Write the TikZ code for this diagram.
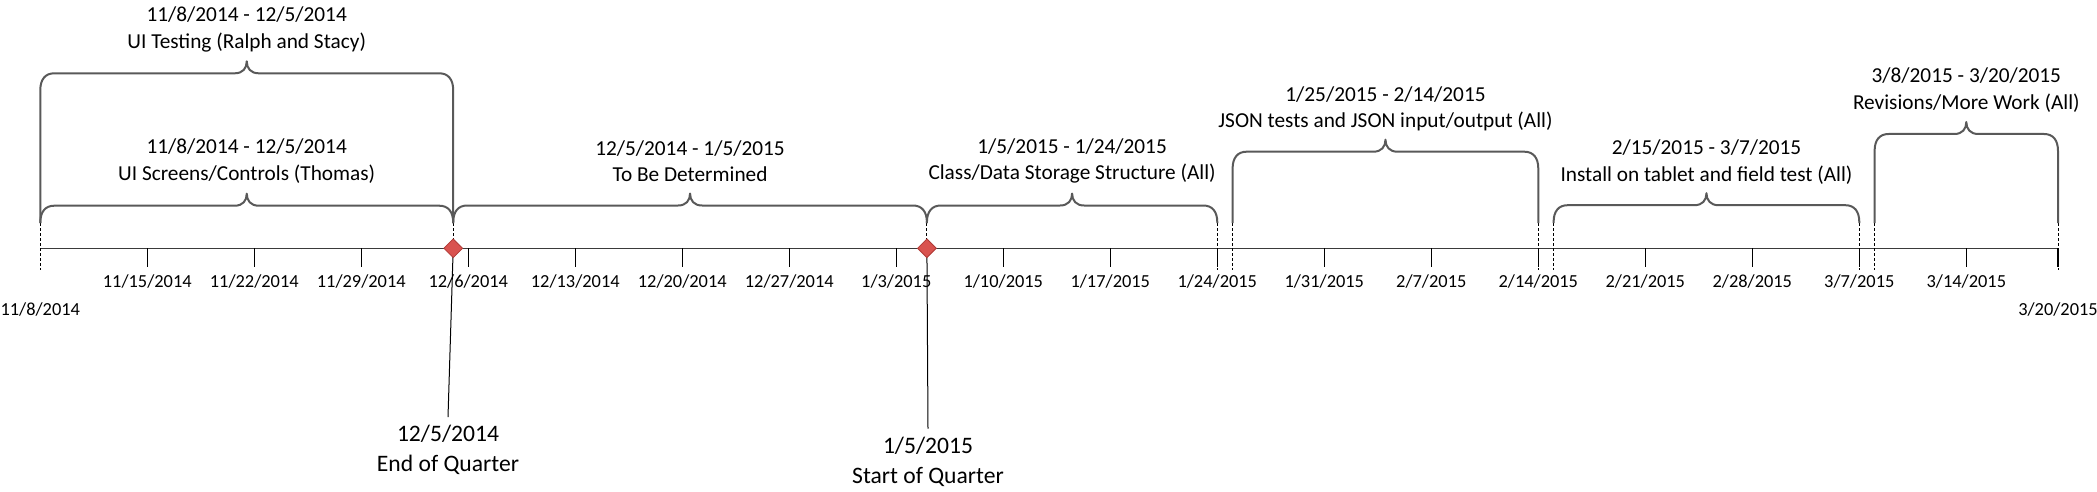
\documentclass[tikz,border=0pt]{standalone}
\usepackage{fontspec}
\setmainfont{Carlito}
\usetikzlibrary{shapes.geometric}
\definecolor{bracegray}{HTML}{595959}
\definecolor{axisgray}{HTML}{3A3A3A}
\definecolor{msred}{HTML}{D9534F}
\definecolor{msredline}{HTML}{B03A36}
\newcommand\wktick[3]{%
  \draw[weektick] (#1,248.3) -- (#1,267);
  \node[ticklabel] (#3) at (#1,287.6) {#2};}
\newcommand\dashmarkat[1]{\draw[dashmark] (#1,223) -- (#1,270);}
\newcommand\tlbrace[4]{% x1, x2, y of the horizontal, name of tip
  \draw[bracestyle] (#1,223) -- (#1,#3+17)
    .. controls (#1,#3+6) and (#1+5,#3) .. (#1+14,#3)
    -- ({(#1+#2)/2-12},#3)
    .. controls ({(#1+#2)/2-4},#3) and ({(#1+#2)/2},#3-5) .. ({(#1+#2)/2},#3-12)
    .. controls ({(#1+#2)/2},#3-5) and ({(#1+#2)/2+4},#3) .. ({(#1+#2)/2+12},#3)
    -- (#2-14,#3)
    .. controls (#2-5,#3) and (#2,#3+6) .. (#2,#3+17) -- (#2,223);
  \coordinate (#4) at ({(#1+#2)/2},#3-12);}
\begin{document}
\begin{tikzpicture}[x=1pt,y=-1pt,
  bracestyle/.style={draw=bracegray, line width=2pt, line join=round},
  axisline/.style={draw=axisgray, line width=1.4pt},
  weektick/.style={draw=black, line width=1.4pt},
  dashmark/.style={draw=black, line width=1pt, dash pattern=on 3pt off 2pt},
  ticklabel/.style={font=\fontsize{18.4}{22}\selectfont, inner sep=0pt, anchor=base},
  headlabel/.style={font=\fontsize{21.3}{26.6}\selectfont, align=center, inner sep=0pt},
  quarterlabel/.style={font=\fontsize{23.6}{30}\selectfont, align=center, inner sep=0pt},
  milestone/.style={diamond, draw=msredline, fill=msred, line width=0.8pt, minimum size=19pt, inner sep=0pt},
  leader/.style={draw=black, line width=1pt}]
\useasboundingbox (0,0) rectangle (2097,492);

% axis
\coordinate (ax0) at (40.3,248.3);
\coordinate (ax1) at (2058,248.3);
\draw[axisline] (ax0) -- (ax1);

% weekly ticks
\wktick{147.3}{11/15/2014}{t1}
\wktick{254.3}{11/22/2014}{t2}
\wktick{361.3}{11/29/2014}{t3}
\wktick{468.3}{12/6/2014}{t4}
\wktick{575.3}{12/13/2014}{t5}
\wktick{682.3}{12/20/2014}{t6}
\wktick{789.3}{12/27/2014}{t7}
\wktick{896.3}{1/3/2015}{t8}
\wktick{1003.3}{1/10/2015}{t9}
\wktick{1110.3}{1/17/2015}{t10}
\wktick{1217.3}{1/24/2015}{t11}
\wktick{1324.3}{1/31/2015}{t12}
\wktick{1431.3}{2/7/2015}{t13}
\wktick{1538.3}{2/14/2015}{t14}
\wktick{1645.3}{2/21/2015}{t15}
\wktick{1752.3}{2/28/2015}{t16}
\wktick{1859.3}{3/7/2015}{t17}
\wktick{1966.3}{3/14/2015}{t18}
\draw[weektick] (2058,248.3) -- (2058,267);
\node[ticklabel] (tstart) at (40.3,315.2) {11/8/2014};
\node[ticklabel] (tend) at (2058,315.2) {3/20/2015};

% dashed marks at the ends of the braces
\dashmarkat{40.3}
\dashmarkat{1217.3}
\dashmarkat{1232.6}
\dashmarkat{1538.3}
\dashmarkat{1553.6}
\dashmarkat{1859.3}
\dashmarkat{1874.6}
\dashmarkat{2058}
\draw[dashmark] (453.2,223) -- (453.2,248.3);
\draw[dashmark] (926.9,223) -- (926.9,248.3);

% braces
\tlbrace{40.3}{453.2}{73.3}{b1}
\tlbrace{40.3}{453.2}{205.7}{b2}
\tlbrace{453.2}{926.9}{205.5}{b3}
\tlbrace{926.9}{1217.3}{205.5}{b4}
\tlbrace{1232.6}{1538.3}{151.7}{b5}
\tlbrace{1553.6}{1859.3}{205.2}{b6}
\tlbrace{1874.6}{2058}{134}{b7}

% brace labels
\node[headlabel] (l1) at (246.7,29.7) {11/8/2014 - 12/5/2014\\UI Testing (Ralph and Stacy)};
\node[headlabel] (l2) at (246.7,161) {11/8/2014 - 12/5/2014\\UI Screens/Controls (Thomas)};
\node[headlabel] (l3) at (690,161) {12/5/2014 - 1/5/2015\\To Be Determined};
\node[headlabel] (l4) at (1072.1,161) {1/5/2015 - 1/24/2015\\Class/Data Storage Structure (All)};
\node[headlabel] (l5) at (1385.5,108.9) {1/25/2015 - 2/14/2015\\JSON tests and JSON input/output (All)};
\node[headlabel] (l6) at (1706.5,162.2) {2/15/2015 - 3/7/2015\\Install on tablet and field test (All)};
\node[headlabel] (l7) at (1966.3,90) {3/8/2015 - 3/20/2015\\Revisions/More Work (All)};

% milestones
\node[quarterlabel] (q1) at (448,450) {12/5/2014\\End of Quarter};
\node[quarterlabel] (q2) at (928,461.7) {1/5/2015\\Start of Quarter};
\coordinate (m1c) at (453.2,248.3);
\coordinate (m2c) at (926.9,248.3);
\draw[leader] (m1c) -- ([yshift=8pt]q1.north);
\draw[leader] (m2c) -- ([yshift=8pt]q2.north);
\node[milestone] (m1) at (m1c) {};
\node[milestone] (m2) at (m2c) {};
\end{tikzpicture}
\end{document}
